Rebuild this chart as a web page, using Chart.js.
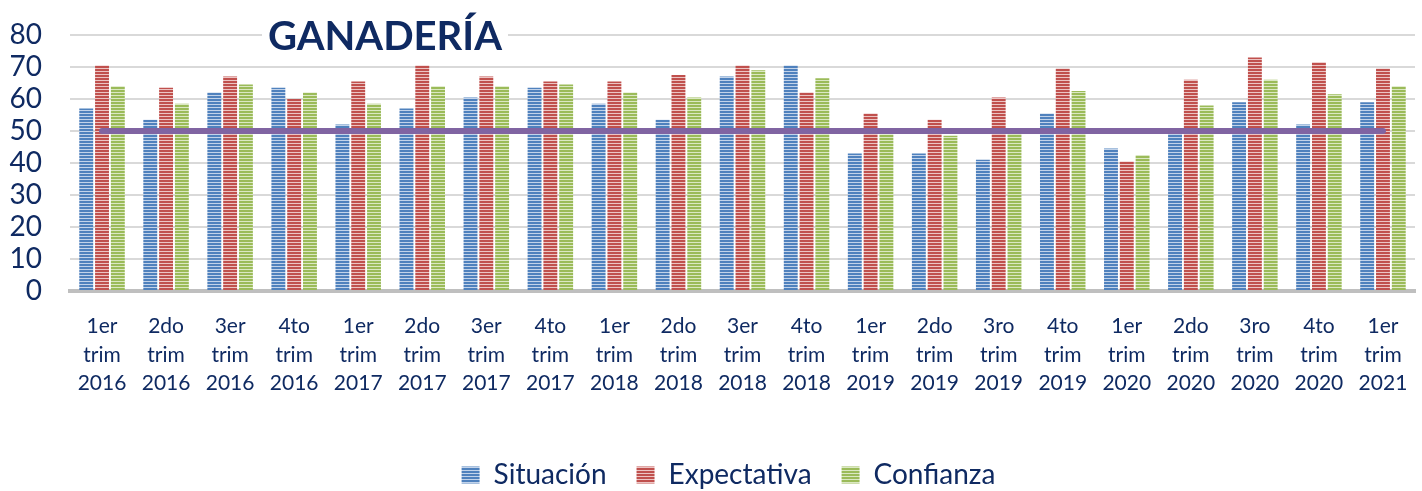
<!DOCTYPE html>
<html>
<head>
<meta charset="utf-8">
<script src="https://cdn.jsdelivr.net/npm/chart.js@4/dist/chart.umd.min.js"></script>
<style>
  html, body { margin: 0; padding: 0; background: #fff; }
  #wrap { width: 1422px; height: 491px; }
</style>
</head>
<body>
<div id="wrap"><canvas id="chart" width="1422" height="491"></canvas></div>
<script>
const quarters = ['1er', '2do', '3er', '4to', '1er', '2do', '3er', '4to', '1er', '2do', '3er', '4to',
  '1er', '2do', '3ro', '4to', '1er', '2do', '3ro', '4to', '1er'];
const years = ['2016', '2016', '2016', '2016', '2017', '2017', '2017', '2017', '2018', '2018', '2018', '2018',
  '2019', '2019', '2019', '2019', '2020', '2020', '2020', '2020', '2021'];

const situacion = [57, 53.5, 62, 63.5, 52, 57, 60.5, 63.5, 58.5, 53.5, 67, 70.5,
  43, 43, 41, 55.5, 44.5, 49.5, 59, 52, 59];
const expectativa = [70.5, 63.5, 67, 60, 65.5, 70.5, 67, 65.5, 65.5, 67.5, 70.5, 62,
  55.5, 53.5, 60.5, 69.5, 40.5, 66, 73, 71.5, 69.5];
const confianza = [64, 58.5, 64.5, 62, 58.5, 64, 64, 64.5, 62, 60.5, 69, 66.5,
  49, 48.5, 50.5, 62.5, 42.5, 58, 66, 61.5, 64];
const referencia = 50;

const yTicks = [0, 10, 20, 30, 40, 50, 60, 70, 80];

const navy = '#0f2a62';
const fontFamily = 'Lato, "Open Sans", sans-serif';

// horizontal stripe fill, like the Office pattern
function stripes(dark, light) {
  const c = document.createElement('canvas');
  c.width = 4; c.height = 3;
  const g = c.getContext('2d');
  g.fillStyle = dark; g.fillRect(0, 0, 4, 2);
  g.fillStyle = light; g.fillRect(0, 2, 4, 1);
  return g.createPattern(c, 'repeat');
}

const labels = quarters.map((q, i) => [q, 'trim', years[i]]);

const titlePlugin = {
  id: 'sheetTitle',
  afterLayout(chart) {
    // legend sits a bit right of the canvas centre in the original
    chart.legend.left += 21;
    chart.legend.right += 21;
  },
  afterDraw(chart) {
    const ctx = chart.ctx;
    ctx.save();
    ctx.font = 'bold 40px ' + fontFamily;
    const text = 'GANADERÍA';
    const w = ctx.measureText(text).width;
    const scale = 234 / w;
    ctx.fillStyle = '#fff';
    ctx.fillRect(262, 14, 246, 40);
    ctx.translate(268, 50);
    ctx.scale(scale, 1);
    ctx.fillStyle = navy;
    ctx.textBaseline = 'alphabetic';
    ctx.fillText(text, 0, 0);
    ctx.restore();
  }
};

new Chart(document.getElementById('chart'), {
  data: {
    labels: labels,
    datasets: [
      {
        type: 'line',
        label: 'Referencia',
        data: situacion.map(() => referencia),
        borderColor: '#8064a2',
        borderWidth: 6,
        borderCapStyle: 'round',
        pointRadius: 0,
        order: 0
      },
      {
        type: 'bar',
        label: 'Situación',
        data: situacion,
        backgroundColor: stripes('#4f81bd', '#c2d3ea'),
        order: 1
      },
      {
        type: 'bar',
        label: 'Expectativa',
        data: expectativa,
        backgroundColor: stripes('#c0504d', '#ecc4c3'),
        order: 1
      },
      {
        type: 'bar',
        label: 'Confianza',
        data: confianza,
        backgroundColor: stripes('#9bbb59', '#dbe8c3'),
        order: 1
      }
    ]
  },
  options: {
    responsive: false,
    animation: false,
    datasets: {
      bar: { categoryPercentage: 0.74, barPercentage: 0.88 }
    },
    layout: { padding: { top: 35, right: 7, left: 0, bottom: -8 } },
    scales: {
      x: {
        grid: { display: false },
        border: { color: '#bfbfbf', width: 4 },
        ticks: {
          color: navy,
          font: { family: fontFamily, size: 21, lineHeight: 1.36 },
          padding: 13,
          maxRotation: 0,
          autoSkip: false
        },
        afterFit(scale) { scale.height = 140; }
      },
      y: {
        min: 0,
        max: 80,
        afterBuildTicks(scale) { scale.ticks = yTicks.map(v => ({ value: v })); },
        grid: { color: '#d9d9d9', lineWidth: 2, drawTicks: false },
        border: { display: false },
        ticks: {
          color: navy,
          font: { family: fontFamily, size: 28 },
          padding: 28,
          autoSkip: false
        },
        afterFit(scale) {
          scale.width = 70;
          scale.paddingTop = 0;
          scale.paddingBottom = 0;
        }
      }
    },
    plugins: {
      legend: {
        position: 'bottom',
        labels: {
          filter: item => item.text !== 'Referencia',
          color: navy,
          font: { family: fontFamily, size: 28, lineHeight: 1 },
          boxWidth: 18,
          boxHeight: 17,
          padding: 30
        }
      },
      tooltip: { enabled: false }
    }
  },
  plugins: [titlePlugin]
});
</script>
</body>
</html>
